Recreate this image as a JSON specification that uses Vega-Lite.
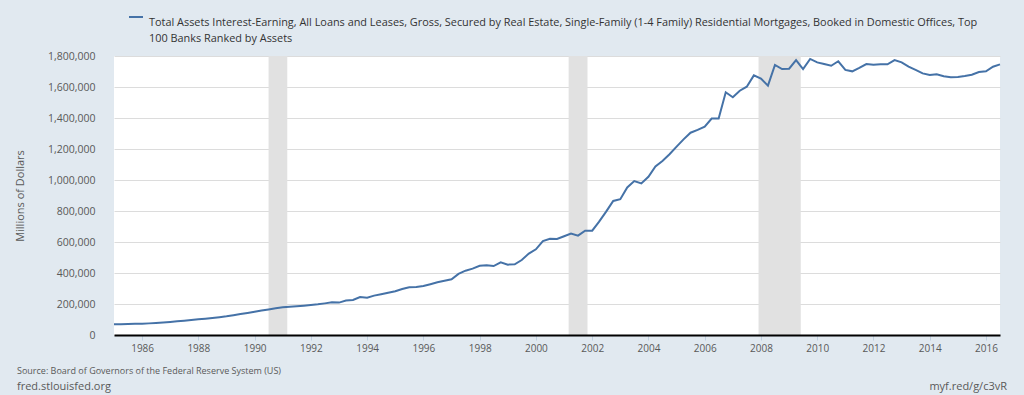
{
  "$schema": "https://vega.github.io/schema/vega-lite/v6.json",
  "width": 886,
  "height": 279,
  "autosize": "none",
  "padding": {"left": 114, "top": 56, "right": 24, "bottom": 60},
  "background": "#e1e9f0",
  "config": {
    "view": {"stroke": null, "fill": "#ffffff"},
    "font": "Open Sans",
    "legend": {"orient": "none", "legendX": 14, "legendY": -47},
    "style": {"guide-label": {"lineHeight": 16}}
  },
  "datasets": {
    "series": [
      {"date": "1985-01-01", "value": 69000}, {"date": "1985-04-01", "value": 70000}, {"date": "1985-07-01", "value": 71000}, {"date": "1985-10-01", "value": 72000},
      {"date": "1986-01-01", "value": 73000}, {"date": "1986-04-01", "value": 75000}, {"date": "1986-07-01", "value": 77000}, {"date": "1986-10-01", "value": 80000},
      {"date": "1987-01-01", "value": 84000}, {"date": "1987-04-01", "value": 88000}, {"date": "1987-07-01", "value": 92000}, {"date": "1987-10-01", "value": 97000},
      {"date": "1988-01-01", "value": 101000}, {"date": "1988-04-01", "value": 105000}, {"date": "1988-07-01", "value": 110000}, {"date": "1988-10-01", "value": 115000},
      {"date": "1989-01-01", "value": 121000}, {"date": "1989-04-01", "value": 128000}, {"date": "1989-07-01", "value": 135000}, {"date": "1989-10-01", "value": 142000},
      {"date": "1990-01-01", "value": 150000}, {"date": "1990-04-01", "value": 158000}, {"date": "1990-07-01", "value": 165000}, {"date": "1990-10-01", "value": 172000},
      {"date": "1991-01-01", "value": 179000}, {"date": "1991-04-01", "value": 182000}, {"date": "1991-07-01", "value": 185000}, {"date": "1991-10-01", "value": 189000},
      {"date": "1992-01-01", "value": 194000}, {"date": "1992-04-01", "value": 198000}, {"date": "1992-07-01", "value": 204000}, {"date": "1992-10-01", "value": 211000},
      {"date": "1993-01-01", "value": 209000}, {"date": "1993-04-01", "value": 222000}, {"date": "1993-07-01", "value": 226000}, {"date": "1993-10-01", "value": 245000},
      {"date": "1994-01-01", "value": 241000}, {"date": "1994-04-01", "value": 254000}, {"date": "1994-07-01", "value": 263000}, {"date": "1994-10-01", "value": 273000},
      {"date": "1995-01-01", "value": 282000}, {"date": "1995-04-01", "value": 297000}, {"date": "1995-07-01", "value": 308000}, {"date": "1995-10-01", "value": 310000},
      {"date": "1996-01-01", "value": 316000}, {"date": "1996-04-01", "value": 328000}, {"date": "1996-07-01", "value": 340000}, {"date": "1996-10-01", "value": 350000},
      {"date": "1997-01-01", "value": 359000}, {"date": "1997-04-01", "value": 394000}, {"date": "1997-07-01", "value": 415000}, {"date": "1997-10-01", "value": 428000},
      {"date": "1998-01-01", "value": 447000}, {"date": "1998-04-01", "value": 450000}, {"date": "1998-07-01", "value": 445000}, {"date": "1998-10-01", "value": 469000},
      {"date": "1999-01-01", "value": 454000}, {"date": "1999-04-01", "value": 456000}, {"date": "1999-07-01", "value": 484000}, {"date": "1999-10-01", "value": 525000},
      {"date": "2000-01-01", "value": 553000}, {"date": "2000-04-01", "value": 606000}, {"date": "2000-07-01", "value": 621000}, {"date": "2000-10-01", "value": 619000},
      {"date": "2001-01-01", "value": 637000}, {"date": "2001-04-01", "value": 654000}, {"date": "2001-07-01", "value": 641000}, {"date": "2001-10-01", "value": 673000},
      {"date": "2002-01-01", "value": 673000}, {"date": "2002-04-01", "value": 731000}, {"date": "2002-07-01", "value": 796000}, {"date": "2002-10-01", "value": 865000},
      {"date": "2003-01-01", "value": 876000}, {"date": "2003-04-01", "value": 952000}, {"date": "2003-07-01", "value": 993000}, {"date": "2003-10-01", "value": 978000},
      {"date": "2004-01-01", "value": 1021000}, {"date": "2004-04-01", "value": 1088000}, {"date": "2004-07-01", "value": 1123000}, {"date": "2004-10-01", "value": 1166000},
      {"date": "2005-01-01", "value": 1215000}, {"date": "2005-04-01", "value": 1262000}, {"date": "2005-07-01", "value": 1305000}, {"date": "2005-10-01", "value": 1323000},
      {"date": "2006-01-01", "value": 1344000}, {"date": "2006-04-01", "value": 1396000}, {"date": "2006-07-01", "value": 1396000}, {"date": "2006-10-01", "value": 1566000},
      {"date": "2007-01-01", "value": 1534000}, {"date": "2007-04-01", "value": 1576000}, {"date": "2007-07-01", "value": 1602000}, {"date": "2007-10-01", "value": 1675000},
      {"date": "2008-01-01", "value": 1654000}, {"date": "2008-04-01", "value": 1609000}, {"date": "2008-07-01", "value": 1742000}, {"date": "2008-10-01", "value": 1716000},
      {"date": "2009-01-01", "value": 1718000}, {"date": "2009-04-01", "value": 1774000}, {"date": "2009-07-01", "value": 1715000}, {"date": "2009-10-01", "value": 1781000},
      {"date": "2010-01-01", "value": 1759000}, {"date": "2010-04-01", "value": 1748000}, {"date": "2010-07-01", "value": 1737000}, {"date": "2010-10-01", "value": 1766000},
      {"date": "2011-01-01", "value": 1710000}, {"date": "2011-04-01", "value": 1701000}, {"date": "2011-07-01", "value": 1723000}, {"date": "2011-10-01", "value": 1748000},
      {"date": "2012-01-01", "value": 1744000}, {"date": "2012-04-01", "value": 1746000}, {"date": "2012-07-01", "value": 1746000}, {"date": "2012-10-01", "value": 1774000},
      {"date": "2013-01-01", "value": 1759000}, {"date": "2013-04-01", "value": 1731000}, {"date": "2013-07-01", "value": 1710000}, {"date": "2013-10-01", "value": 1688000},
      {"date": "2014-01-01", "value": 1677000}, {"date": "2014-04-01", "value": 1682000}, {"date": "2014-07-01", "value": 1669000}, {"date": "2014-10-01", "value": 1663000},
      {"date": "2015-01-01", "value": 1665000}, {"date": "2015-04-01", "value": 1671000}, {"date": "2015-07-01", "value": 1679000}, {"date": "2015-10-01", "value": 1697000},
      {"date": "2016-01-01", "value": 1701000}, {"date": "2016-04-01", "value": 1731000}, {"date": "2016-07-01", "value": 1746000}
    ],
    "recessions": [
      {"start": "1990-07-01", "end": "1991-03-01"},
      {"start": "2001-03-01", "end": "2001-11-01"},
      {"start": "2007-12-01", "end": "2009-06-01"}
    ],
    "footer": [
      {"label": "Source: Board of Governors of the Federal Reserve System (US)"}
    ]
  },
  "layer": [
    {
      "data": {"name": "recessions"},
      "mark": {"type": "rect", "color": "#e1e1e1"},
      "encoding": {
        "x": {"field": "start", "type": "temporal", "scale": {"type": "utc", "domain": ["1985-01-01", "2016-07-01"]}},
        "x2": {"field": "end"}
      }
    },
    {
      "data": {"name": "series"},
      "mark": {"type": "line", "strokeWidth": 2, "color": "#4572a7"},
      "encoding": {
        "x": {
          "field": "date",
          "type": "temporal",
          "scale": {"type": "utc", "domain": ["1985-01-01", "2016-07-01"]},
          "axis": {
            "title": null,
            "format": "%Y",
            "formatType": "utc",
            "tickCount": {"interval": "year", "step": 2},
            "grid": false,
            "domainColor": "#000000",
            "domainWidth": 2,
            "tickColor": "#c0d0e0",
            "tickSize": 5,
            "labelPadding": 3,
            "labelFontSize": 10,
            "labelColor": "#595959",
            "zindex": 1
          }
        },
        "y": {
          "field": "value",
          "type": "quantitative",
          "scale": {"domain": [0, 1800000], "nice": false},
          "axis": {
            "title": "Millions of Dollars",
            "titleFontSize": 11,
            "titleFontWeight": "normal",
            "titleColor": "#595959",
            "titlePadding": 22,
            "values": [0, 200000, 400000, 600000, 800000, 1000000, 1200000, 1400000, 1600000, 1800000],
            "format": ",d",
            "domain": false,
            "ticks": false,
            "labelPadding": 19,
            "labelFontSize": 10.5,
            "labelColor": "#595959",
            "gridColor": "#dcdcdc",
            "gridWidth": 1,
            "zindex": 0
          }
        },
        "color": {
          "datum": "Total Assets",
          "type": "nominal",
          "scale": {"range": ["#4572a7"]},
          "legend": {
            "title": null,
            "symbolType": "stroke",
            "symbolSize": 196,
            "symbolStrokeWidth": 2,
            "labelFontSize": 10.9,
            "labelColor": "#333333",
            "labelLimit": 2000,
            "labelBaseline": "top",
            "labelOffset": 5,
            "labelExpr": "['Total Assets Interest-Earning, All Loans and Leases, Gross, Secured by Real Estate, Single-Family (1-4 Family) Residential Mortgages, Booked in Domestic Offices, Top', '100 Banks Ranked by Assets']"
          }
        }
      }
    },
    {
      "data": {"name": "footer"},
      "mark": {"type": "text", "align": "left", "baseline": "middle", "dx": -97, "dy": 36, "fontSize": 9, "color": "#595959"},
      "encoding": {
        "x": {"value": 0},
        "y": {"value": "height"},
        "text": {"field": "label"}
      }
    },
    {
      "data": {"values": [{"label": "fred.stlouisfed.org"}]},
      "mark": {"type": "text", "align": "left", "baseline": "middle", "dx": -97, "dy": 52, "fontSize": 11, "color": "#595959"},
      "encoding": {
        "x": {"value": 0},
        "y": {"value": "height"},
        "text": {"field": "label"}
      }
    },
    {
      "data": {"values": [{"label": "myf.red/g/c3vR"}]},
      "mark": {"type": "text", "align": "right", "baseline": "middle", "dx": 7, "dy": 52, "fontSize": 11, "color": "#595959"},
      "encoding": {
        "x": {"value": "width"},
        "y": {"value": "height"},
        "text": {"field": "label"}
      }
    }
  ]
}
